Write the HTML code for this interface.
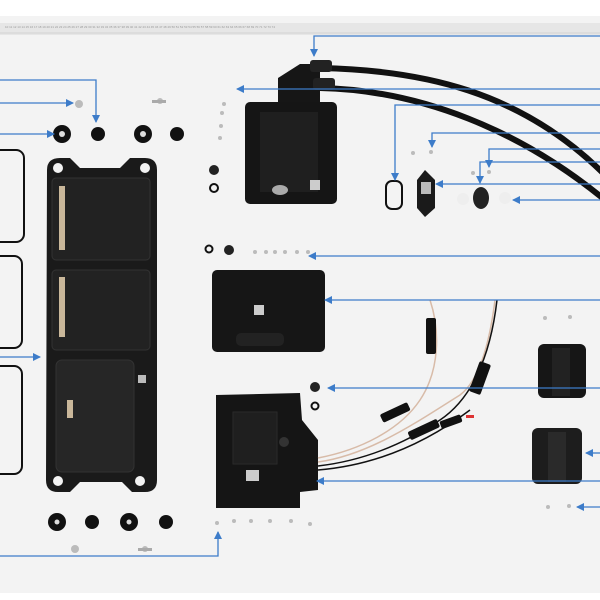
<!DOCTYPE html>
<html><head><style>html,body{margin:0;padding:0;background:#fff}svg{display:block}</style></head><body>
<svg width="600" height="600" viewBox="0 0 600 600" xmlns="http://www.w3.org/2000/svg">
<defs><marker id="a" markerWidth="8" markerHeight="8" refX="7" refY="4" orient="auto" markerUnits="userSpaceOnUse"><path d="M0,0 L8,4 L0,8 z" fill="#3d7cc9"/></marker></defs>
<rect x="0" y="16" width="600" height="577" fill="#f3f3f3"/>
<rect x="0" y="23" width="600" height="12" fill="#e6e6e6"/>
<g stroke="#bbb" stroke-width="0.6">
<path d="M0 33 H600" />
</g>
<g fill="#999" font-family="Liberation Sans" font-size="3">
<text x="5" y="28">10 11 12 13 14 15 16 17 18 19 20 21 22 23 24 25 26 27 28 29 30 31 32 33 34 35 36 37 38 39 40 41 42 43 44 45 46 47 48 49 50 51 52 53 54 55 56 57 58 59 60 61 62 63 64 65 66 67 68 69 70 71 72 73 74</text>
</g>
<!-- gaskets -->
<g fill="none" stroke="#111" stroke-width="2">
<rect x="-8" y="150" width="32" height="92" rx="8"/>
<rect x="-8" y="256" width="30" height="92" rx="8"/>
<rect x="-8" y="366" width="30" height="108" rx="8"/>
</g>
<!-- long plate -->
<path d="M47 170 Q47 158 60 158 L70 158 L80 168 L120 168 L130 158 L145 158 Q157 158 157 170 L157 480 Q157 492 145 492 L132 492 L122 482 L80 482 L70 492 L58 492 Q46 492 46 480 Z" fill="#1a1a1a"/>
<rect x="52" y="178" width="98" height="82" rx="4" fill="#222" stroke="#333"/>
<rect x="52" y="270" width="98" height="80" rx="4" fill="#222" stroke="#333"/>
<rect x="56" y="360" width="78" height="112" rx="6" fill="#262626" stroke="#333"/>
<rect x="59" y="186" width="6" height="64" fill="#c9b79a"/>
<rect x="59" y="277" width="6" height="60" fill="#c9b79a"/>
<rect x="67" y="400" width="6" height="18" fill="#c9b79a"/>
<rect x="138" y="375" width="8" height="8" fill="#bbb"/>
<circle cx="58" cy="168" r="5" fill="#f3f3f3"/><circle cx="145" cy="168" r="5" fill="#f3f3f3"/>
<circle cx="58" cy="481" r="5" fill="#f3f3f3"/><circle cx="140" cy="481" r="5" fill="#f3f3f3"/>
<!-- washers -->
<g fill="#111">
<circle cx="62" cy="134" r="9"/><circle cx="98" cy="134" r="7"/><circle cx="143" cy="134" r="9"/><circle cx="177" cy="134" r="7"/>
<circle cx="57" cy="522" r="9"/><circle cx="92" cy="522" r="7"/><circle cx="129" cy="522" r="9"/><circle cx="166" cy="522" r="7"/>
</g>
<g fill="#ddd"><circle cx="62" cy="134" r="3"/><circle cx="143" cy="134" r="3"/><circle cx="57" cy="522" r="2.5"/><circle cx="129" cy="522" r="2.5"/></g>
<g fill="#bbb"><circle cx="79" cy="104" r="4"/><circle cx="160" cy="101" r="3"/><circle cx="75" cy="549" r="4"/><circle cx="145" cy="549" r="3"/>
<circle cx="224" cy="104" r="2"/><circle cx="222" cy="113" r="2"/><circle cx="221" cy="126" r="2"/><circle cx="220" cy="138" r="2"/>
<circle cx="255" cy="252" r="2"/><circle cx="266" cy="252" r="2"/><circle cx="275" cy="252" r="2"/><circle cx="285" cy="252" r="2"/><circle cx="297" cy="252" r="2"/><circle cx="308" cy="252" r="2"/>
<circle cx="217" cy="523" r="2"/><circle cx="234" cy="521" r="2"/><circle cx="251" cy="521" r="2"/><circle cx="270" cy="521" r="2"/><circle cx="291" cy="521" r="2"/><circle cx="310" cy="524" r="2"/>
<circle cx="413" cy="153" r="2"/><circle cx="431" cy="152" r="2"/><circle cx="473" cy="173" r="2"/><circle cx="489" cy="172" r="2"/>
<circle cx="545" cy="318" r="2"/><circle cx="570" cy="317" r="2"/><circle cx="548" cy="507" r="2"/><circle cx="569" cy="506" r="2"/></g>
<rect x="152" y="100" width="14" height="3" fill="#aaa"/>
<rect x="138" y="548" width="14" height="3" fill="#aaa"/>
<circle cx="214" cy="170" r="5" fill="#222"/><circle cx="214" cy="188" r="4" fill="none" stroke="#111" stroke-width="2"/>
<circle cx="209" cy="249" r="3.5" fill="none" stroke="#111" stroke-width="2"/><circle cx="229" cy="250" r="5" fill="#222"/>
<circle cx="315" cy="387" r="5" fill="#222"/><circle cx="315" cy="406" r="3.5" fill="none" stroke="#111" stroke-width="2"/>
<!-- cables -->
<g fill="none" stroke="#111" stroke-width="6" stroke-linecap="round">
<path d="M320 68 C420 70 520 90 605 175"/>
<path d="M320 88 C420 90 520 130 605 200"/>
</g>
<!-- top box -->
<path d="M278 78 L300 64 L320 64 L320 110 L278 110 Z" fill="#161616"/>
<rect x="310" y="60" width="22" height="12" rx="3" fill="#222"/><rect x="313" y="78" width="22" height="12" rx="3" fill="#222"/>
<rect x="245" y="102" width="92" height="102" rx="5" fill="#151515"/>
<rect x="260" y="112" width="58" height="80" fill="#1f1f1f"/>
<rect x="310" y="180" width="10" height="10" fill="#ccc"/>
<ellipse cx="280" cy="190" rx="8" ry="5" fill="#aaa"/>
<!-- small parts right top -->
<rect x="386" y="181" width="16" height="28" rx="6" fill="none" stroke="#111" stroke-width="2"/>
<path d="M425 170 L435 180 L435 208 L425 217 L417 208 L417 180 Z" fill="#1a1a1a"/><rect x="421" y="182" width="10" height="12" fill="#bbb"/>
<ellipse cx="481" cy="198" rx="8" ry="11" fill="#222"/>
<circle cx="463" cy="199" r="6" fill="#eee"/><circle cx="505" cy="198" r="6" fill="#eee"/>
<!-- middle box -->
<rect x="212" y="270" width="113" height="82" rx="5" fill="#161616"/>
<rect x="254" y="305" width="10" height="10" fill="#ccc"/>
<rect x="236" y="333" width="48" height="13" rx="5" fill="#222"/>
<!-- bottom box -->
<path d="M216 395 L300 393 L302 420 L318 440 L318 490 L300 492 L300 508 L216 508 Z" fill="#151515"/>
<rect x="233" y="412" width="44" height="52" fill="#1f1f1f" stroke="#2a2a2a"/>
<rect x="246" y="470" width="13" height="11" fill="#ccc"/>
<circle cx="284" cy="442" r="5" fill="#333"/>
<!-- wires -->
<g fill="none" stroke-width="1.5">
<path d="M318 458 C360 450 400 430 420 400 C440 370 440 330 430 300" stroke="#d8bba8"/>
<path d="M318 462 C370 455 420 420 460 395 C480 380 490 340 495 300" stroke="#d8bba8"/>
<path d="M318 466 C370 460 410 440 440 420 C470 400 490 360 497 300" stroke="#111"/>
<path d="M318 470 C380 465 430 440 470 410" stroke="#111"/>
</g>
<g fill="#111">
<rect x="426" y="318" width="10" height="36" rx="2"/>
<rect x="474" y="362" width="12" height="32" rx="2" transform="rotate(20 480 378)"/>
<rect x="380" y="408" width="30" height="9" rx="2" transform="rotate(-25 395 412)"/>
<rect x="408" y="425" width="32" height="9" rx="2" transform="rotate(-25 424 430)"/>
<rect x="440" y="418" width="22" height="8" rx="2" transform="rotate(-20 450 422)"/>
</g>
<rect x="466" y="415" width="8" height="3" fill="#d33"/>
<!-- brackets -->
<rect x="538" y="344" width="48" height="54" rx="6" fill="#161616"/>
<rect x="552" y="348" width="18" height="48" fill="#222"/>
<rect x="532" y="428" width="50" height="56" rx="6" fill="#1d1d1d"/>
<rect x="548" y="432" width="18" height="50" fill="#2a2a2a"/>
<!-- arrows -->
<g fill="none" stroke="#3d7cc9" stroke-width="1.3" marker-end="url(#a)">
<path d="M600 36 H314 V56"/>
<path d="M600 89 H237"/>
<path d="M600 105 H395 V180"/>
<path d="M600 133 H432 V147"/>
<path d="M600 149 H489 V167"/>
<path d="M600 162 H480 V183"/>
<path d="M600 184 H436"/>
<path d="M600 200 H513"/>
<path d="M600 256 H309"/>
<path d="M600 300 H325"/>
<path d="M600 388 H328"/>
<path d="M600 453 H586"/>
<path d="M600 481 H317"/>
<path d="M600 507 H577"/>
<path d="M0 80 H96 V122"/>
<path d="M0 103 H73"/>
<path d="M0 134 H54"/>
<path d="M0 357 H40"/>
<path d="M0 556 H218 V532"/>
</g>
</svg>
</body></html>
